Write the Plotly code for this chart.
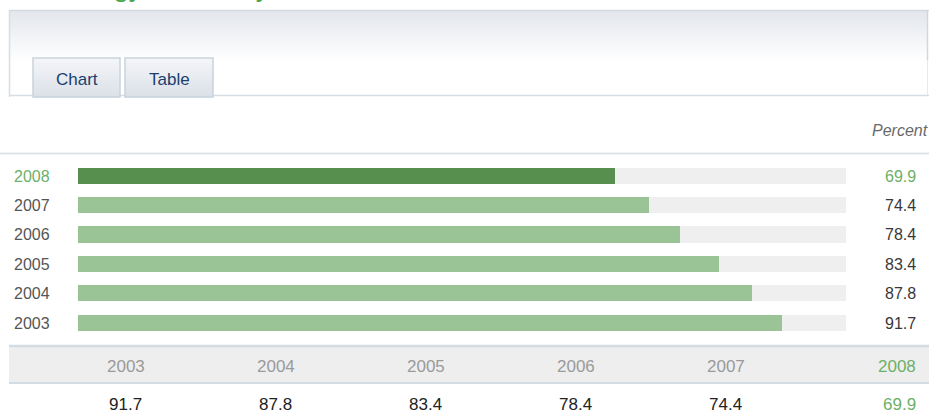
import plotly.graph_objects as go

# ---- data -------------------------------------------------------------
years = ["2003", "2004", "2005", "2006", "2007", "2008"]
values = [91.7, 87.8, 83.4, 78.4, 74.4, 69.9]
highlight_year = "2008"
scale_max = 100
unit_label = "Percent"
tab_labels = ["Chart", "Table"]
title_text = "Energy Efficiency"

# ---- page geometry (pixels) --------------------------------------------
W, H = 929, 419


def px(x):
    return x / W


def py(y):
    return 1 - y / H


def hexmix(c1, c2, t):
    a = [int(c1[i:i + 2], 16) for i in (1, 3, 5)]
    b = [int(c2[i:i + 2], 16) for i in (1, 3, 5)]
    return "#" + "".join(f"{round(a[i] + (b[i] - a[i]) * t):02x}" for i in range(3))


GREEN_DARK = "#578f4e"
GREEN_LIGHT = "#9ac495"
GREEN_TEXT = "#6db067"
TRACK = "#efefef"
BORDER = "#d6dde5"
FONT = "Arial, Liberation Sans, sans-serif"

shapes = []


def rect(x0, y0, x1, y1, fill, line=None, lw=1):
    shapes.append(dict(type="rect", xref="paper", yref="paper",
                       x0=px(x0), x1=px(x1), y0=py(y1), y1=py(y0),
                       fillcolor=fill, layer="below",
                       line=dict(color=line or fill, width=lw if line else 0)))


def hline(x0, x1, y, color, lw=1):
    shapes.append(dict(type="line", xref="paper", yref="paper",
                       x0=px(x0), x1=px(x1), y0=py(y), y1=py(y),
                       line=dict(color=color, width=lw), layer="below"))


def vline(x, y0, y1, color, lw=1):
    shapes.append(dict(type="line", xref="paper", yref="paper",
                       x0=px(x), x1=px(x), y0=py(y0), y1=py(y1),
                       line=dict(color=color, width=lw), layer="below"))


def gradient(x0, y0, x1, y1, top, bottom, steps=24):
    h = (y1 - y0) / steps
    for i in range(steps):
        c = hexmix(top, bottom, i / (steps - 1))
        rect(x0, y0 + i * h, x1, y0 + (i + 1) * h + 0.6, c)


# header panel with soft vertical gradient
rect(9, 10, 929, 96, "#ffffff")
gradient(10, 11, 927, 62, "#e3e7ec", "#ffffff")
hline(9, 929, 10.5, "#d3dae2", 1.5)
vline(9.5, 10, 97, BORDER, 1.5)
vline(927.5, 10, 60, "#d0d7df", 1.5)
vline(927.5, 60, 96, "#e6eaee", 1)
hline(9, 929, 95.5, BORDER, 1.5)

# tabs
tab_x = [(33, 120), (125, 213)]
annotations = []
for (x0, x1), lab in zip(tab_x, tab_labels):
    gradient(x0, 58, x1, 97, "#f4f5f8", "#dbe1e8", steps=16)
    rect(x0, 58, x1, 97, "rgba(0,0,0,0)", "#c9d3dd", 1.5)
    annotations.append(dict(xref="paper", yref="paper", x=px((x0 + x1) / 2), y=py(79),
                            text=lab, showarrow=False, xanchor="center", yanchor="middle",
                            font=dict(family=FONT, size=17, color="#1b3e6e")))

# title (sits above the visible area)
annotations.append(dict(xref="paper", yref="paper", x=px(52), y=py(4),
                        text=title_text, showarrow=False, xanchor="left", yanchor="bottom",
                        font=dict(family=FONT, size=28, color="#4ea84b")))

# unit label and separator
annotations.append(dict(xref="paper", yref="paper", x=px(930), y=py(130),
                        text=f"<i>{unit_label}</i>", showarrow=False,
                        xanchor="right", yanchor="middle",
                        font=dict(family=FONT, size=16, color="#6a6a6a")))
hline(0, 929, 153.5, "#dfe3e8", 2)

# bottom data table band
rect(9, 346, 929, 383, "#eeeeee")
hline(9, 929, 346, "#d3dbe3", 2.5)
hline(9, 929, 383, "#d3dbe3", 2)

fig = go.Figure()

bar_colors = [GREEN_DARK if y == highlight_year else GREEN_LIGHT for y in years]

fig.add_trace(go.Bar(y=years, x=[scale_max] * len(years), orientation="h",
                     marker=dict(color=TRACK, line=dict(width=0)),
                     width=0.55, hoverinfo="skip", showlegend=False))
fig.add_trace(go.Bar(y=years, x=values, orientation="h",
                     marker=dict(color=bar_colors, line=dict(width=0)),
                     width=0.55, showlegend=False,
                     hovertemplate="%{y}: %{x}<extra></extra>"))

# row labels: year on the left, value on the right (positioned by row index)
for i, (y, v) in enumerate(zip(years, values)):
    hi = y == highlight_year
    annotations.append(dict(xref="paper", yref="y", x=px(12), y=i, text=y,
                            showarrow=False, xanchor="left", yanchor="middle",
                            font=dict(family=FONT, size=16,
                                      color=GREEN_TEXT if hi else "#555555")))
    annotations.append(dict(xref="paper", yref="y", x=px(918), y=i, text=f"{v:.1f}",
                            showarrow=False, xanchor="right", yanchor="middle",
                            font=dict(family=FONT, size=16,
                                      color=GREEN_TEXT if hi else "#383838")))

# table columns
for i, (y, v) in enumerate(zip(years, values)):
    hi = y == highlight_year
    if hi:
        cx, anchor = px(918), "right"
    else:
        cx, anchor = px(125.5 + 150 * i), "center"
    annotations.append(dict(xref="paper", yref="paper", x=cx, y=py(366), text=y,
                            showarrow=False, xanchor=anchor, yanchor="middle",
                            font=dict(family=FONT, size=17,
                                      color=GREEN_TEXT if hi else "#9a9a9a")))
    annotations.append(dict(xref="paper", yref="paper", x=cx, y=py(404), text=f"{v:.1f}",
                            showarrow=False, xanchor=anchor, yanchor="middle",
                            font=dict(family=FONT, size=17,
                                      color=GREEN_TEXT if hi else "#222222")))

row_pitch = (323 - 176) / 5
y_bottom = 323 + row_pitch / 2
y_top = 176 - row_pitch / 2

fig.update_layout(
    width=W, height=H,
    margin=dict(l=0, r=0, t=0, b=0),
    paper_bgcolor="#ffffff", plot_bgcolor="rgba(0,0,0,0)",
    barmode="overlay", bargap=0,
    xaxis=dict(domain=[px(78), px(846)], range=[0, scale_max], visible=False, fixedrange=True),
    yaxis=dict(domain=[py(y_bottom), py(y_top)], range=[-0.5, len(years) - 0.5],
               type="category", categoryorder="array", categoryarray=years,
               visible=False, fixedrange=True),
    shapes=shapes,
    annotations=annotations,
    showlegend=False,
)

fig.write_html("out.html", config={"displayModeBar": False})
